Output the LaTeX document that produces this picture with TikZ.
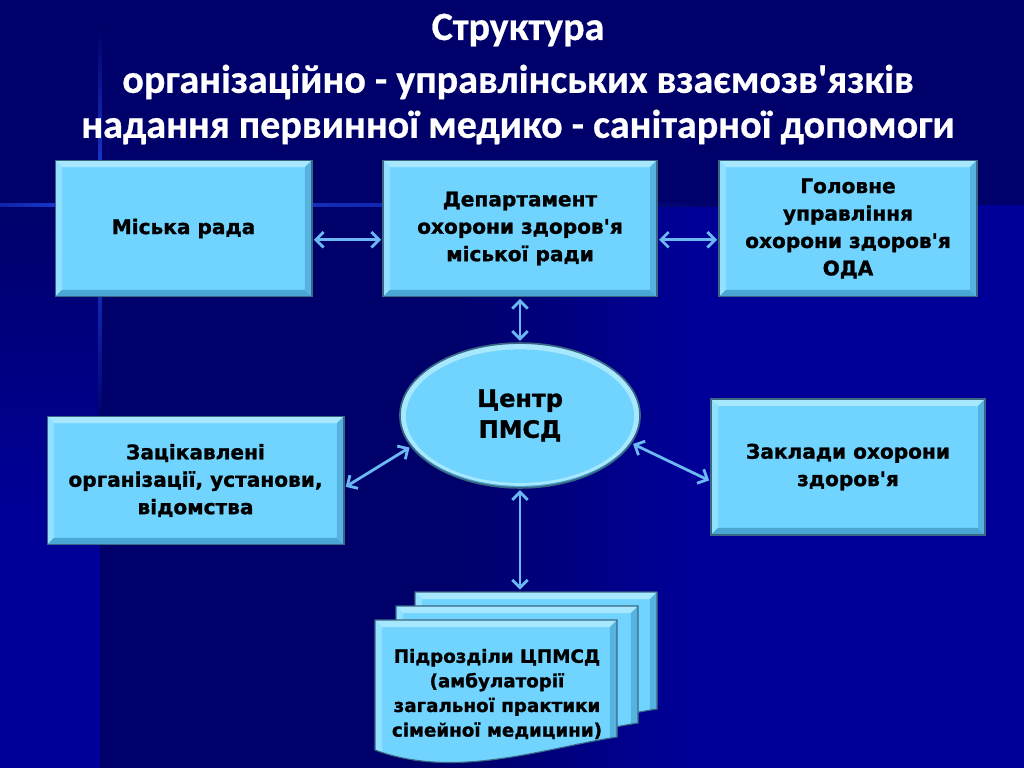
\documentclass[tikz,border=0pt]{standalone}
\usepackage{fontspec}
\setmainfont{DejaVu Sans}[Ligatures=TeXOff, BoldFeatures={FakeBold=1.2}]
\newfontfamily\titlefont{Carlito}[Ligatures=TeXOff, BoldFeatures={FakeBold=0.6}]
\usetikzlibrary{shapes.geometric,arrows.meta}

\definecolor{bgdark}{HTML}{00006A}
\definecolor{bgbright}{HTML}{000099}
\definecolor{gridline}{HTML}{1E46E6}
\definecolor{boxfill}{HTML}{70D4FF}
\definecolor{boxlight}{HTML}{A8E8FF}
\definecolor{boxdark}{HTML}{4AA6D2}
\definecolor{boxedge}{HTML}{3A6884}
\definecolor{arrowcol}{HTML}{6CB8F2}

\tikzset{
  bevel/.style={path picture={
    \fill[boxlight] (path picture bounding box.north west) -- (path picture bounding box.north east)
      -- ++(-5pt,-5pt) -- ([shift={(5pt,-5pt)}]path picture bounding box.north west) -- cycle;
    \fill[boxlight!60!boxfill] (path picture bounding box.north west) -- ([shift={(5pt,-5pt)}]path picture bounding box.north west)
      -- ([shift={(5pt,5pt)}]path picture bounding box.south west) -- (path picture bounding box.south west) -- cycle;
    \fill[boxdark] (path picture bounding box.south west) -- (path picture bounding box.south east)
      -- ++(-5pt,5pt) -- ([shift={(5pt,5pt)}]path picture bounding box.south west) -- cycle;
    \fill[boxdark!70!boxfill] (path picture bounding box.north east) -- (path picture bounding box.south east)
      -- ++(-5pt,5pt) -- ([shift={(-5pt,-5pt)}]path picture bounding box.north east) -- cycle;
  }}
}

% one sheet of the stack, north west corner at #1,#2
\newcommand{\docsheet}[2]{%
  \draw[sheet, shift={(#1,#2)}] (0,0) -- (242,0) -- (242,117)
    .. controls (170,128) and (80,160) .. (0,130) -- cycle;
}

\begin{document}
\begin{tikzpicture}[x=0.025cm, y=-0.025cm,
  title/.style={text=white, font=\titlefont\fontsize{28.5}{32}\selectfont\bfseries},
  box/.style={draw=boxedge, line width=0.8pt, fill=boxfill, bevel, align=center, inner sep=0pt,
    font=\fontsize{14.3}{19.5}\selectfont\bfseries},
  oval/.style={ellipse, minimum width=6cm, minimum height=3.62cm, inner sep=0pt, draw=boxedge,
    line width=1.2pt, fill=boxfill, align=center, font=\fontsize{17}{22}\selectfont\bfseries,
    path picture={
      \fill[boxdark] (path picture bounding box.south west) rectangle (path picture bounding box.north east);
      \fill[boxlight] ([yshift=1.5pt]path picture bounding box.center) ellipse [x radius=3cm, y radius=1.81cm];
      \fill[boxfill] ([yshift=-0.5pt]path picture bounding box.center) ellipse [x radius=2.85cm, y radius=1.67cm];
    }},
  sheet/.style={draw=boxedge, line width=0.8pt, fill=boxfill, bevel},
  sheettext/.style={align=center, font=\fontsize{13}{17.5}\selectfont\bfseries},
  conn/.style={<->, draw=arrowcol, line width=2pt, shorten <=1pt, shorten >=1pt},
  >={Straight Barb[length=5.5pt,width=11pt]}]

% background
\useasboundingbox (0,0) rectangle (1024,768);
\fill[bgbright] (0,0) rectangle (1024,768);
\fill[bgdark] (0,0) rectangle (1024,205);
\fill[bgdark] (100,205) rectangle (450,768);
\shade[left color=bgdark, right color=bgbright] (450,205) rectangle (700,768);
\shade[top color=bgdark, bottom color=bgbright] (0,205) rectangle (100,520);
% grid lines
\shade[left color=gridline!50!bgdark, right color=gridline] (0,203.5) rectangle (100,206.5);
\shade[left color=gridline, right color=bgdark] (100,203.5) rectangle (720,206.5);
\shade[top color=bgdark, bottom color=gridline] (98.5,30) rectangle (101.5,205);
\shade[top color=gridline, bottom color=bgdark] (98.5,205) rectangle (101.5,420);

% title
\node[title] (title1) at (518,30) {Структура};
\node[title] (title2) at (518,82) {організаційно - управлінських взаємозв'язків};
\node[title] (title3) at (518,127) {надання первинної медико - санітарної допомоги};

% upper row
\node[box, minimum width=6.42cm, minimum height=3.42cm] (rada) at (183.5,228.5) {Міська рада};
\node[box, minimum width=6.85cm, minimum height=3.42cm] (dept) at (520,228.5) {Департамент\\ охорони здоров'я\\ міської ради};
\node[box, minimum width=6.45cm, minimum height=3.42cm] (golovne) at (848,228.5) {Головне\\ управління\\ охорони здоров'я\\ ОДА};

% centre
\node[oval] (centr) at (520,415.5) {Центр\\ ПМСД};

% middle row
\node[box, minimum width=7.42cm, minimum height=3.22cm] (zatsik) at (195.5,480.5) {Зацікавлені\\ організації, установи,\\ відомства};
\node[box, minimum width=6.85cm, minimum height=3.4cm] (zaklady) at (848,467) {Заклади охорони\\ здоров'я};

% stack of sheets
\docsheet{415}{592}
\docsheet{396}{606}
\docsheet{375}{620}
\node[sheettext] (pidrozd) at (497,694) {Підрозділи ЦПМСД\\ (амбулаторії\\ загальної практики\\ сімейної медицини)};
\coordinate (stacktop) at (520,591);

% connectors
\draw[conn] ([yshift=-8pt]rada.east) -- ([yshift=-8pt]dept.west);
\draw[conn] ([yshift=-8pt]dept.east) -- ([yshift=-8pt]golovne.west);
\draw[conn] (dept.south) -- (centr.north);
\draw[conn] (centr.196) -- ([yshift=-5pt]zatsik.east);
\draw[conn] (centr.-14) -- ([yshift=-10pt]zaklady.west);
\draw[conn] (centr.south) -- (stacktop);

\end{tikzpicture}
\end{document}
